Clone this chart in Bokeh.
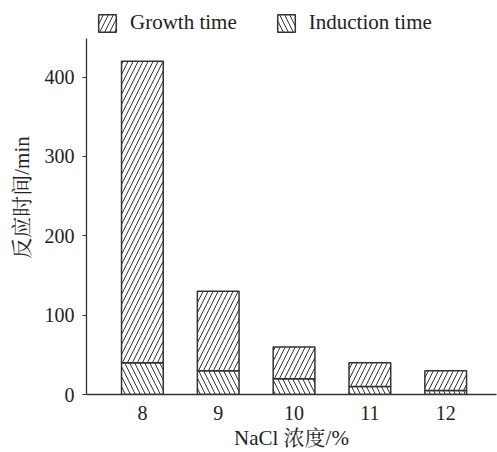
from bokeh.plotting import figure
from bokeh.models import ColumnDataSource, Legend, LegendItem, Range1d, FixedTicker
from bokeh.embed import file_html
from bokeh.resources import INLINE

nacl = [8, 9, 10, 11, 12]
induction = [40, 30, 20, 10, 5]
growth = [380, 100, 40, 30, 25]
y_ticks = [0, 100, 200, 300, 400]
y_axis_max = 449
series_labels = ["Growth time", "Induction time"]

src = ColumnDataSource(dict(x=nacl, induction=induction, growth=growth))

SERIF = "'Liberation Serif', 'Times New Roman', 'Noto Serif CJK SC', 'Noto Sans CJK SC'"
EDGE = "#333333"

# frame spans the full height; y axis line is bounded to 0..449 so the legend
# can sit above the axis top as in the reference
p = figure(width=497, height=452, output_backend="svg", toolbar_location=None,
           x_range=Range1d(7.263, 12.67), y_range=Range1d(0, 496.6),
           min_border_left=86, min_border_right=1, min_border_top=0, min_border_bottom=56)

rs = p.vbar_stack(["induction", "growth"], x="x", width=0.55, source=src,
                  fill_color="white", line_color=EDGE, line_width=1.5,
                  hatch_pattern=["\\", "/"], hatch_color=EDGE,
                  hatch_scale=10, hatch_weight=1)

legend = Legend(items=[LegendItem(label=series_labels[0], renderers=[rs[1]]),
                       LegendItem(label=series_labels[1], renderers=[rs[0]])],
                orientation="horizontal", location="top_left",
                label_text_font=SERIF, label_text_font_size="21px",
                label_text_color="#222222", label_standoff=12,
                glyph_width=22, glyph_height=22, spacing=38,
                padding=0, margin=10, border_line_color=None,
                background_fill_alpha=0)
p.add_layout(legend, "center")

p.outline_line_color = None
p.grid.grid_line_color = None

p.xaxis.ticker = FixedTicker(ticks=nacl)
p.yaxis.ticker = FixedTicker(ticks=y_ticks)
p.yaxis.bounds = (0, y_axis_max)
p.xaxis.minor_tick_line_color = None
p.yaxis.minor_tick_line_color = None
p.yaxis.major_tick_in = 0
p.yaxis.major_tick_out = 4
for ax in (p.xaxis, p.yaxis):
    ax.axis_line_color = EDGE
    ax.axis_line_width = 1.3
    ax.major_tick_line_color = EDGE
    ax.major_label_text_font = SERIF
    ax.major_label_text_font_size = "20px"
    ax.major_label_text_color = "#222222"
    ax.axis_label_text_font = SERIF
    ax.axis_label_text_font_size = "21px"
    ax.axis_label_text_font_style = "normal"
    ax.axis_label_text_color = "#222222"
p.xaxis.major_tick_line_color = None
p.yaxis.major_label_standoff = 8
p.xaxis.axis_label = "NaCl 浓度/%"
p.yaxis.axis_label = "反应时间/min"
p.xaxis.axis_label_standoff = 3
p.yaxis.axis_label_standoff = 8

open("out.html", "w").write(file_html(p, INLINE))
